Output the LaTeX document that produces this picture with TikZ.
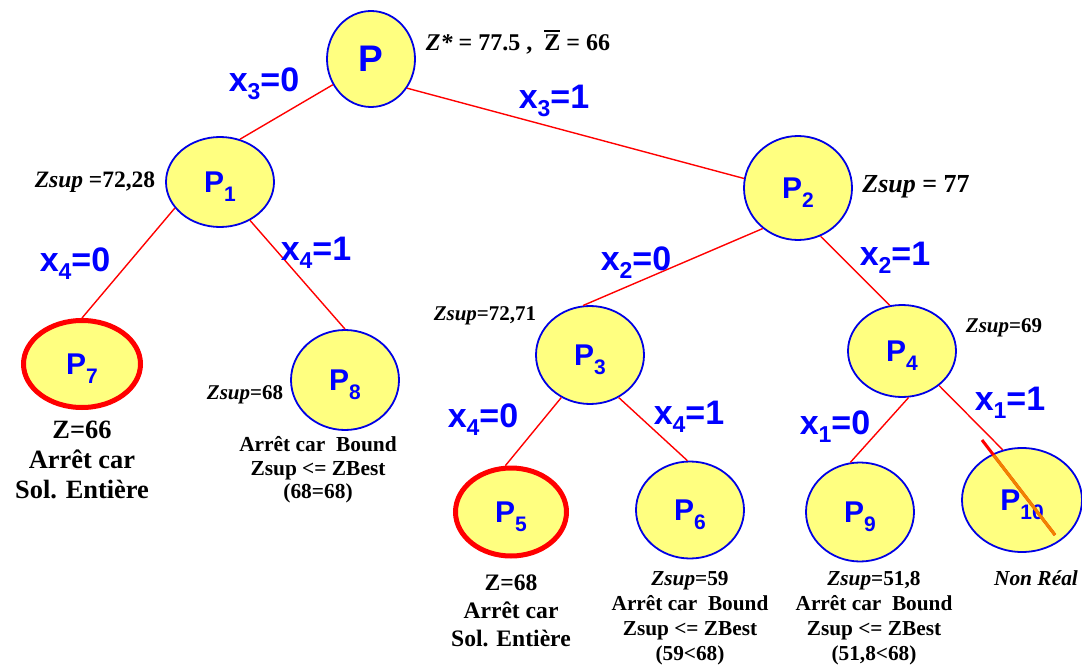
\documentclass[tikz,border=0pt]{standalone}
\usepackage{fontspec}
\setmainfont{Liberation Serif}
\setsansfont{Liberation Sans}
\usetikzlibrary{shapes.geometric}
\definecolor{nodefill}{RGB}{255,255,128}
\definecolor{nodeblue}{RGB}{0,0,230}
\definecolor{lblblue}{RGB}{0,0,255}
\definecolor{strike}{RGB}{240,130,0}
\tikzset{
 pnode/.style={ellipse, draw=nodeblue, line width=1.8pt, fill=nodefill, inner sep=0pt, text=lblblue, font=\sffamily\bfseries\fontsize{30}{30}\selectfont},
 goal/.style={pnode, draw=red, line width=5pt},
 edge/.style={draw=red, line width=1.4pt},
 blbl/.style={text=lblblue, font=\sffamily\bfseries\fontsize{34}{34}\selectfont, inner sep=0pt},
 note/.style={font=\bfseries\fontsize{21.4}{23.5}\selectfont, align=center, inner sep=0pt},
 side/.style={font=\bfseries\fontsize{21}{21}\selectfont, inner sep=0pt},
}
\newcommand{\Pn}[1]{P\smash{\raisebox{-9pt}{\fontsize{21}{21}\selectfont #1}}}
\newcommand{\xv}[2]{x\raisebox{-8pt}{\fontsize{23}{23}\selectfont #1}=#2}
\newcommand{\Zbar}{\makebox[0pt][l]{\rule[0.76em]{0.64em}{1.6pt}}Z}
\begin{document}
\begin{tikzpicture}[x=1pt,y=-1pt]
\useasboundingbox (0,0) rectangle (1082,666);
% nodes
\node[pnode, minimum width=88, minimum height=96, font=\sffamily\bfseries\fontsize{37}{37}\selectfont] (P) at (371,59) {P};
\node[pnode, minimum width=108, minimum height=90] (P1) at (220,182) {\Pn{1}};
\node[pnode, minimum width=108, minimum height=104] (P2) at (798,188) {\Pn{2}};
\node[goal, minimum width=117, minimum height=87] (P7) at (82,364) {\Pn{7}};
\node[pnode, minimum width=108, minimum height=100] (P8) at (345,380) {\Pn{8}};
\node[pnode, minimum width=108, minimum height=98] (P3) at (590,355) {\Pn{3}};
\node[goal, minimum width=111, minimum height=88] (P5) at (511,512) {\Pn{5}};
\node[pnode, minimum width=108, minimum height=97] (P6) at (690,510) {\Pn{6}};
\node[pnode, minimum width=108, minimum height=92] (P4) at (902,351) {\Pn{4}};
\node[pnode, minimum width=108, minimum height=99] (P9) at (860,512) {\Pn{9}};
\node[pnode, minimum width=120, minimum height=104] (P10) at (1022,500) {\Pn{10}};
% edges
\draw[edge] (P.214) -- (P1.65);
\draw[edge] (P.-39) -- (P2.170);
\draw[edge] (P1.210) -- (P7.90);
\draw[edge] (P1.-52) -- (P8.90);
\draw[edge] (P2.229) -- (P3.98);
\draw[edge] (P2.-65) -- (P4.105);
\draw[edge] (P3.236) -- (P5.97);
\draw[edge] (P3.-56) -- (P6.93);
\draw[edge] (P4.-82) -- (P9.101);
\draw[edge] (P4.-43) -- (P10.111);
% strike through P10
\coordinate (s1) at (982,440);
\coordinate (s2) at (1055,535);
\draw[red, line width=3pt] (s1) -- (s2);
\begin{scope}
\clip (P10.center) ellipse [x radius=59, y radius=51];
\draw[strike, line width=3pt] (s1) -- (s2);
\end{scope}
% branch labels
\node[blbl] (l30) at (264,84) {\xv{3}{0}};
\node[blbl] (l31) at (554,101) {\xv{3}{1}};
\node[blbl] (l40a) at (75,264) {\xv{4}{0}};
\node[blbl] (l41a) at (316,253) {\xv{4}{1}};
\node[blbl] (l20) at (636,263) {\xv{2}{0}};
\node[blbl] (l21) at (895,258) {\xv{2}{1}};
\node[blbl] (l40b) at (483,420) {\xv{4}{0}};
\node[blbl] (l41b) at (689,417) {\xv{4}{1}};
\node[blbl] (l10) at (835,427) {\xv{1}{0}};
\node[blbl] (l11) at (1010,403) {\xv{1}{1}};
% side values
\node[side, font=\bfseries\fontsize{24}{24}\selectfont] (zstar) at (518,42) {\textit{Z*} = 77.5 ,\ \ \Zbar{} = 66};
\node[side, font=\bfseries\fontsize{23.5}{23.5}\selectfont] (z1) at (95,182) {\textit{Zsup} =72,28};
\node[side, font=\bfseries\fontsize{26}{26}\selectfont] (z2) at (916,187) {\textit{Zsup} = 77};
\node[side] (z8) at (245,395) {\textit{Zsup}=68};
\node[side] (z3) at (485,316) {\textit{Zsup}=72,71};
\node[side] (z4) at (1004,328) {\textit{Zsup}=69};
% notes
\node[note, font=\bfseries\fontsize{26.4}{30}\selectfont] (n7) at (82,460) {Z=66\\Arrêt car\\Sol. Entière};
\node[note] (n8) at (318,470) {Arrêt car\ \ Bound\\Zsup <= ZBest\\(68=68)};
\node[note, font=\bfseries\fontsize{23.6}{28}\selectfont] (n5) at (511,611) {Z=68\\Arrêt car\\Sol. Entière};
\node[note, font=\bfseries\fontsize{21.3}{25}\selectfont] (n6) at (690,618) {\textit{Zsup}=59\\Arrêt car\ \ Bound\\Zsup <= ZBest\\(59<68)};
\node[note, font=\bfseries\fontsize{21.3}{25}\selectfont] (n9) at (874,618) {\textit{Zsup}=51,8\\Arrêt car\ \ Bound\\Zsup <= ZBest\\(51,8<68)};
\node[side, font=\bfseries\itshape\fontsize{21.4}{21.4}\selectfont] (n10) at (1036,578) {Non Réal};
\end{tikzpicture}
\end{document}
